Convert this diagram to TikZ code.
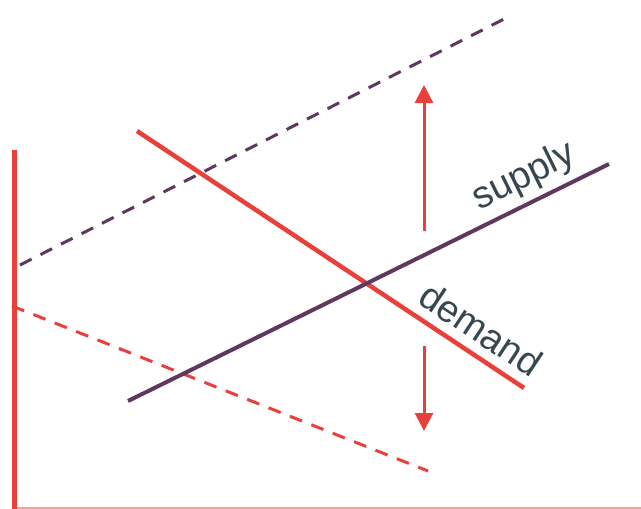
\documentclass[tikz,border=0pt]{standalone}
\usepackage{fontspec}
\setmainfont{Liberation Sans}
\usetikzlibrary{arrows.meta}
\definecolor{dred}{RGB}{232,64,58}
\definecolor{dplum}{RGB}{94,56,94}
\definecolor{dtext}{RGB}{55,71,79}
\definecolor{lred}{RGB}{244,160,150}
\begin{document}
\begin{tikzpicture}[x=1pt,y=-1pt,
  solidred/.style={draw=dred,line width=4.5pt},
  solidplum/.style={draw=dplum,line width=4pt},
  dashred/.style={draw=dred,line width=3pt,dash pattern=on 13pt off 10pt},
  dashplum/.style={draw=dplum,line width=3pt,dash pattern=on 13pt off 10pt},
  shiftarrow/.style={draw=dred,line width=3pt,-{Triangle[width=18pt,length=18pt]}},
  curvelabel/.style={text=dtext,font=\fontsize{38}{38}\selectfont,inner sep=0pt}]
\useasboundingbox (0,0) rectangle (641,509);
\fill[white] (0,0) rectangle (641,509);
% axes
\coordinate (yb) at (14,150);
\coordinate (origin) at (14,509);
\coordinate (xe) at (641,508);
\draw[draw=lred,line width=1.5pt] (14,508) -- (xe);
\draw[draw=dred,line width=5pt] (yb) -- (origin);
% shifted curves (dashed)
\coordinate (sp1) at (20,265);
\coordinate (sp2) at (508,17);
\draw[dashplum] (sp1) -- (sp2);
\coordinate (dm1) at (12,306);
\coordinate (dm2) at (428,471);
\draw[dashred] (dm1) -- (dm2);
% demand and supply
\coordinate (d1) at (137,131);
\coordinate (d2) at (524,388);
\draw[solidred] (d1) -- (d2);
\coordinate (s1) at (128,401);
\coordinate (s2) at (609,164);
\draw[solidplum] (s1) -- (s2);
% arrows
\coordinate (ua1) at (424,231);
\coordinate (ua2) at (424,85);
\draw[shiftarrow] (ua1) -- (ua2);
\coordinate (da1) at (424,346);
\coordinate (da2) at (424,431);
\draw[shiftarrow] (da1) -- (da2);
% labels
\node[curvelabel,rotate=26.2] (supply) at (524,177) {supply};
\node[curvelabel,rotate=-33.6] (demand) at (481,329) {demand};
\end{tikzpicture}
\end{document}
